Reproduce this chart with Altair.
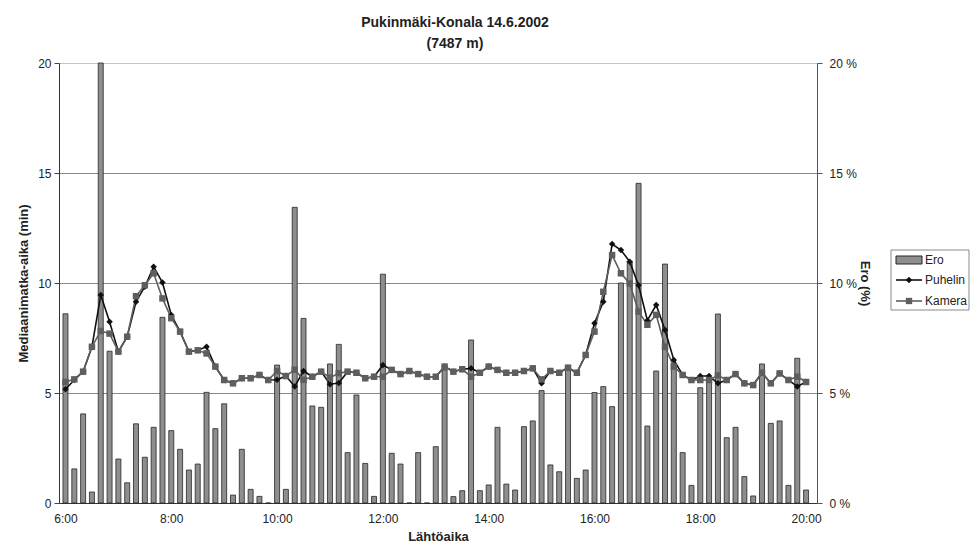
import altair as alt
import pandas as pd

# Ero (%) bars, one per 10-minute departure slot 6:00 ... 20:00
ero = [8.6, 1.55, 4.05, 0.5, 20.0, 6.9, 2.0, 0.92, 3.6, 2.08, 3.44, 8.44, 3.29, 2.44, 1.5, 1.77,
       5.03, 3.38, 4.51, 0.36, 2.44, 0.62,
       0.3, 0.0, 6.27, 0.62, 13.44, 8.39, 4.41, 4.35, 6.32, 7.21, 2.29, 4.91, 1.8, 0.3, 10.4,
       2.26, 1.77, 0.0, 2.29, 0.0, 2.56,
       6.05, 0.29, 0.56, 7.41, 0.56, 0.82, 3.44, 0.86, 0.59, 3.47, 3.73, 5.11, 1.73, 1.42, 6.05,
       1.12, 1.5, 5.02, 5.29, 4.38,
       10.0, 10.97, 14.53, 3.5, 6.0, 10.86, 6.35, 2.29, 0.8, 5.24, 5.5, 8.59, 2.97, 3.44, 1.2,
       0.32, 6.32, 3.62, 3.73, 0.8, 6.58, 0.59]

puhelin = [5.17, 5.59, 5.97, 7.1, 9.45, 8.24, 6.88, 7.56, 9.15, 9.83, 10.74, 10.02, 8.55, 7.79,
           6.88, 6.94, 7.1, 6.2, 5.59, 5.44, 5.67, 5.67,
           5.82, 5.59, 5.6, 5.77, 5.3, 6.0, 5.74, 5.97, 5.4, 5.45, 5.97, 5.92, 5.67, 5.74, 6.27,
           6.05, 5.86, 6.0, 5.86, 5.74, 5.74,
           6.2, 5.97, 6.08, 6.12, 5.92, 6.2, 6.05, 5.92, 5.92, 6.0, 6.12, 5.44, 6.0, 5.92, 6.15,
           5.92, 6.73, 8.17, 9.15, 11.77,
           11.5, 10.97, 9.9, 8.3, 9.0, 7.86, 6.5, 5.82, 5.59, 5.77, 5.77, 5.44, 5.59, 5.86, 5.44,
           5.36, 5.92, 5.44, 5.89, 5.59, 5.3, 5.5]

kamera = [5.5, 5.62, 5.97, 7.1, 7.82, 7.7, 6.88, 7.56, 9.4, 9.9, 10.44, 9.3, 8.4, 7.79,
          6.88, 6.94, 6.8, 6.2, 5.59, 5.44, 5.67, 5.67,
          5.82, 5.59, 6.0, 5.77, 6.06, 5.6, 5.74, 5.97, 5.7, 5.9, 5.97, 5.92, 5.67, 5.74, 5.74,
          6.05, 5.86, 6.0, 5.86, 5.74, 5.74,
          6.2, 5.97, 6.08, 5.74, 5.92, 6.2, 6.05, 5.92, 5.92, 6.0, 6.12, 5.62, 6.0, 5.92, 6.15,
          5.92, 6.73, 7.79, 9.6, 11.27,
          10.44, 9.98, 8.7, 8.1, 8.55, 7.1, 6.2, 5.82, 5.59, 5.59, 5.59, 5.8, 5.59, 5.86, 5.44,
          5.36, 5.92, 5.44, 5.89, 5.59, 5.74, 5.5]

# departure times (hours), 10-minute steps from 6:00
hours = [6 + k / 6 for k in range(len(ero))]
x_ticks = [6, 8, 10, 12, 14, 16, 18, 20]
y_ticks = [0, 5, 10, 15, 20]
series = ["Puhelin", "Kamera"]

FONT = "Liberation Sans"

bars_df = pd.DataFrame({"t": hours, "Ero": ero})
lines_df = pd.DataFrame({
    "t": hours + hours,
    "aika": puhelin + kamera,
    "sarja": [series[0]] * len(puhelin) + [series[1]] * len(kamera),
})

x_scale = alt.Scale(domain=[5.972, 20.112], nice=False, zero=False)
x_axis = alt.Axis(values=x_ticks, labelExpr="floor(datum.value) + ':00'", title="Lähtöaika",
                  grid=False, tickSize=0, labelPadding=10, domainColor="#333",
                  labelFontSize=12, labelColor="#222", labelFont=FONT,
                  titleFont=FONT, titleFontSize=13, titleFontWeight="bold", titleColor="#222",
                  titlePadding=6)

bars = alt.Chart(bars_df).mark_bar(size=5, fill="#8e8e8e", stroke="#262626", strokeWidth=0.8).encode(
    x=alt.X("t:Q", scale=x_scale, axis=x_axis),
    y=alt.Y("Ero:Q", scale=alt.Scale(domain=[0, 20], nice=False),
            axis=alt.Axis(orient="right", values=y_ticks, labelExpr="datum.value + ' %'",
                          title="Ero (%)", grid=False, tickSize=5, tickColor="#555",
                          domainColor="#555", labelPadding=7, labelFontSize=12,
                          labelColor="#222", labelFont=FONT, titleFont=FONT, titleFontSize=13,
                          titleFontWeight="bold", titleColor="#222", titlePadding=1)),
)

color_scale = alt.Scale(domain=series, range=["#111111", "#5e5e5e"])
left_axis = alt.Axis(orient="left", values=y_ticks, title="Mediaanimatka-aika (min)",
                     grid=True, gridColor="#8a8a8a", gridWidth=1,
                     gridDash={"condition": {"test": "datum.value === 20", "value": [1, 1]},
                               "value": []},
                     tickSize=5, tickColor="#444", domainColor="#333", labelPadding=3,
                     labelFontSize=12, labelColor="#222", labelFont=FONT, titleFont=FONT,
                     titleFontSize=13, titleFontWeight="bold", titleColor="#222",
                     titlePadding=7)

base = alt.Chart(lines_df).encode(
    x=alt.X("t:Q", scale=x_scale, axis=x_axis),
    y=alt.Y("aika:Q", scale=alt.Scale(domain=[0, 20], nice=False), axis=left_axis),
    color=alt.Color("sarja:N", scale=color_scale, legend=None),
    detail="sarja:N",
)
lines = base.mark_line(strokeWidth=1.6)
points = base.mark_point(filled=True, size=42, opacity=1).encode(
    shape=alt.Shape("sarja:N", scale=alt.Scale(domain=series, range=["diamond", "square"]),
                    legend=None)
)

left = alt.layer(lines, points)

# manual legend (Excel-style box at the right)
one = pd.DataFrame({"a": [0]})
leg_box = alt.Chart(one).mark_rect(fill="white", stroke="#8a8a8a", strokeWidth=1).encode(
    x=alt.value(832), x2=alt.value(910), y=alt.value(187), y2=alt.value(247))
leg_swatch = alt.Chart(one).mark_rect(fill="#8e8e8e", stroke="#262626", strokeWidth=1).encode(
    x=alt.value(837), x2=alt.value(863), y=alt.value(193), y2=alt.value(201))
leg_l1 = alt.Chart(one).mark_rule(color="#111111", strokeWidth=1.6).encode(
    x=alt.value(837), x2=alt.value(863), y=alt.value(217))
leg_p1 = alt.Chart(one).mark_point(filled=True, shape="diamond", size=44, color="#111111",
                                   opacity=1).encode(x=alt.value(850), y=alt.value(217))
leg_l2 = alt.Chart(one).mark_rule(color="#5e5e5e", strokeWidth=1.6).encode(
    x=alt.value(837), x2=alt.value(863), y=alt.value(238))
leg_p2 = alt.Chart(one).mark_point(filled=True, shape="square", size=40, color="#5e5e5e",
                                   opacity=1).encode(x=alt.value(850), y=alt.value(238))
leg_text_df = pd.DataFrame({"label": ["Ero", "Puhelin", "Kamera"], "yy": [197, 217, 238]})
leg_text = alt.Chart(leg_text_df).mark_text(align="left", baseline="middle", font=FONT,
                                            fontSize=12, color="#222").encode(
    x=alt.value(866), y=alt.Y("yy:Q", scale=None), text="label:N")

chart = alt.layer(
    bars, left, leg_box, leg_swatch, leg_l1, leg_l2, leg_p1, leg_p2, leg_text
).resolve_scale(y="independent").properties(
    width=758, height=440,
    title=alt.TitleParams(["Pukinmäki-Konala 14.6.2002", "(7487 m)"], font=FONT, fontSize=14,
                          fontWeight="bold", color="#222", anchor="middle", dx=17,
                          lineHeight=21, offset=6),
    autosize=alt.AutoSizeParams(type="none"),
    padding={"left": 51, "top": 55, "right": 153, "bottom": 47},
).configure_view(strokeWidth=0)

chart.save("out.html", embed_options={"renderer": "svg", "actions": False})
